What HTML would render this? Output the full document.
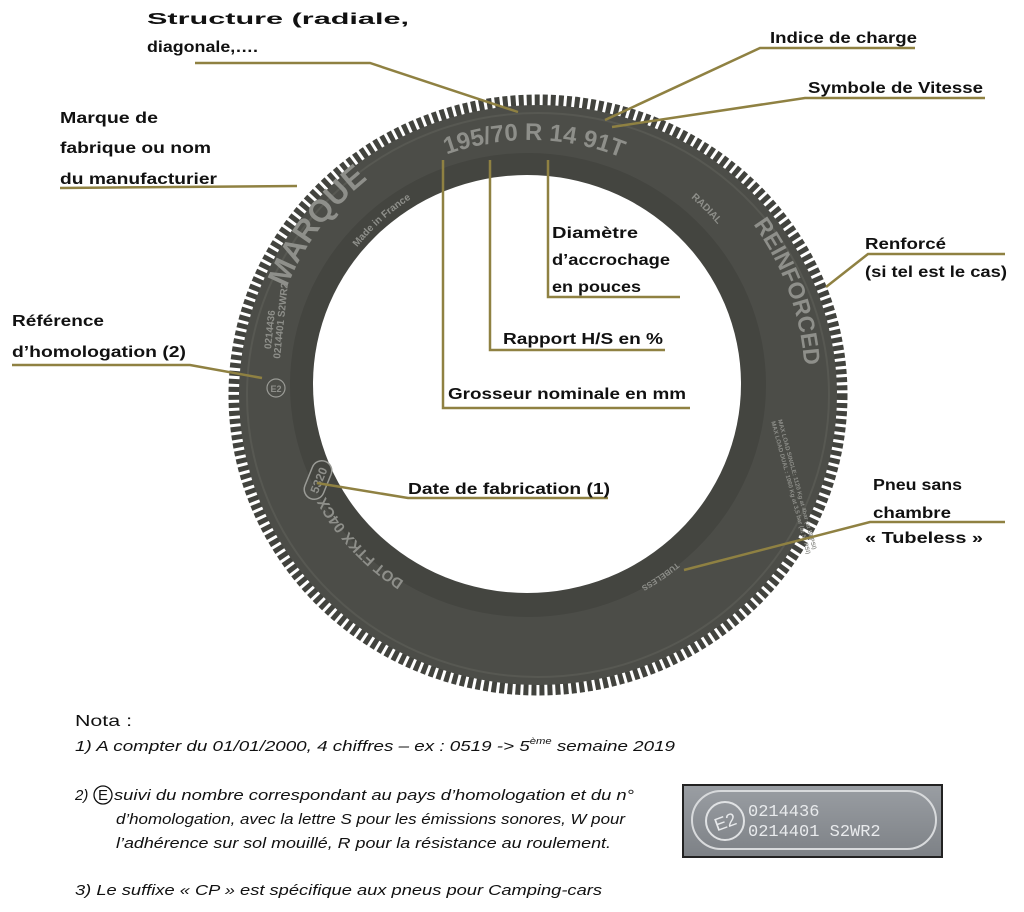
<!DOCTYPE html>
<html><head><meta charset="utf-8"><style>
html,body{margin:0;padding:0;background:#fff;}
svg{display:block;}
.l{font-family:"Liberation Sans",sans-serif;font-size:16px;font-weight:bold;fill:#111;}
.n{font-family:"Liberation Sans",sans-serif;font-size:15px;font-style:italic;fill:#111;}
.t{font-family:"Liberation Sans",sans-serif;font-weight:bold;fill:#8e8f8a;}
</style></head><body>
<svg width="1024" height="912" viewBox="0 0 1024 912" xmlns="http://www.w3.org/2000/svg">
<defs>
<path id="c262" d="M268,385 A262,262 0 1 1 792,385 A262,262 0 1 1 268,385"/>
<path id="c245" d="M285,385 A245,245 0 1 1 775,385 A245,245 0 1 1 285,385"/>
<path id="c275" d="M255,385 A275,275 0 1 1 805,385 A275,275 0 1 1 255,385"/>
<path id="c247" d="M283,385 A247,247 0 1 1 777,385 A247,247 0 1 1 283,385"/>
<path id="c221" d="M309,385 A221,221 0 1 1 751,385 A221,221 0 1 1 309,385"/>
<path id="c233" d="M297,385 A233,233 0 1 1 763,385 A233,233 0 1 1 297,385"/>
<path id="c230" d="M300,385 A230,230 0 1 1 760,385 A230,230 0 1 1 300,385"/>
<linearGradient id="g" x1="0" y1="0" x2="0" y2="1"><stop offset="0" stop-color="#9a9ea3"/><stop offset="1" stop-color="#7d8186"/></linearGradient>
</defs>
<!-- tire -->
<ellipse cx="538" cy="395" rx="304" ry="295" fill="none" stroke="#42433e" stroke-width="11" stroke-dasharray="5 3"/>
<ellipse cx="538" cy="395" rx="299" ry="290" fill="#4c4d48"/>
<ellipse cx="538" cy="395" rx="291" ry="282" fill="none" stroke="#575852" stroke-width="2"/>
<ellipse cx="528" cy="385" rx="238" ry="232" fill="#444540"/>
<ellipse cx="527" cy="384" rx="214" ry="209" fill="#fff"/>
<!-- tire text -->
<text class="t" font-size="24"><textPath href="#c245" startOffset="389" text-anchor="middle">195/70 R 14 91T</textPath></text>
<text class="t" font-size="31"><textPath href="#c262" startOffset="168" text-anchor="middle">MARQUE</textPath></text>
<text class="t" font-size="10"><textPath href="#c221" startOffset="185" text-anchor="middle">Made in France</textPath></text>
<text class="t" font-size="23"><textPath href="#c275" startOffset="768" text-anchor="middle">REINFORCED</textPath></text>
<text class="t" font-size="10"><textPath href="#c247" startOffset="582" text-anchor="middle">RADIAL</textPath></text>
<text class="t" font-size="15"><textPath href="#c233" startOffset="1289" text-anchor="middle">DOT FTKX 04CX</textPath></text>
<text class="t" font-size="8"><textPath href="#c230" startOffset="946" text-anchor="middle">TUBELESS</textPath></text>
<g transform="translate(318,480) rotate(-68)"><rect x="-20" y="-10" width="40" height="20" rx="10" fill="none" stroke="#9a9b96" stroke-width="1.5"/><text class="t" font-size="12" x="0" y="5" text-anchor="middle">5320</text></g>
<g transform="translate(273,330) rotate(-84)"><text class="t" font-size="10" x="0" y="0" text-anchor="middle">0214436</text><text class="t" font-size="10" x="10" y="10" text-anchor="middle">0214401 S2WR2</text></g>
<circle cx="276" cy="388" r="9" fill="none" stroke="#9a9b96" stroke-width="1.2"/>
<text class="t" font-size="9" x="276" y="392" text-anchor="middle">E2</text>
<g transform="translate(778,420) rotate(75)"><text class="t" font-size="6" x="0" y="0">MAX LOAD SINGLE: 1120 Kg at 4bar (at 58 PSI)</text><text class="t" font-size="6" x="0" y="7">MAX LOAD DUAL : 1060 Kg at 3,5 bar (at 51 PSI)</text></g>
<!-- connectors -->
<g fill="none" stroke="#8f8142" stroke-width="2.5">
<polyline points="195,63 370,63 518,112"/>
<polyline points="915,48 760,48 605,120"/>
<polyline points="985,98 805,98 612,127"/>
<polyline points="60,188 297,186"/>
<polyline points="548,160 548,297 680,297"/>
<polyline points="490,160 490,350 665,350"/>
<polyline points="443,160 443,408 690,408"/>
<polyline points="1005,254 868,254 826,287"/>
<polyline points="12,365 190,365 262,378"/>
<polyline points="608,498 408,498 317,483"/>
<polyline points="1005,522 870,522 684,570"/>
</g>
<!-- labels -->
<text class="l" x="147" y="24" textLength="262" lengthAdjust="spacingAndGlyphs" font-size="17">Structure (radiale,</text>
<text class="l" x="147" y="52" textLength="111" lengthAdjust="spacingAndGlyphs">diagonale,….</text>
<text class="l" x="770" y="43" textLength="147" lengthAdjust="spacingAndGlyphs">Indice de charge</text>
<text class="l" x="808" y="93" textLength="175" lengthAdjust="spacingAndGlyphs">Symbole de Vitesse</text>
<text class="l" x="60" y="123" textLength="98" lengthAdjust="spacingAndGlyphs">Marque de</text>
<text class="l" x="60" y="153" textLength="151" lengthAdjust="spacingAndGlyphs">fabrique ou nom</text>
<text class="l" x="60" y="184" textLength="157" lengthAdjust="spacingAndGlyphs">du manufacturier</text>
<text class="l" x="552" y="238" textLength="86" lengthAdjust="spacingAndGlyphs">Diamètre</text>
<text class="l" x="552" y="265" textLength="118" lengthAdjust="spacingAndGlyphs">d’accrochage</text>
<text class="l" x="552" y="292" textLength="89" lengthAdjust="spacingAndGlyphs">en pouces</text>
<text class="l" x="503" y="344" textLength="160" lengthAdjust="spacingAndGlyphs">Rapport H/S en %</text>
<text class="l" x="448" y="399" textLength="238" lengthAdjust="spacingAndGlyphs">Grosseur nominale en mm</text>
<text class="l" x="865" y="249" textLength="81" lengthAdjust="spacingAndGlyphs">Renforcé</text>
<text class="l" x="865" y="277" textLength="142" lengthAdjust="spacingAndGlyphs">(si tel est le cas)</text>
<text class="l" x="12" y="326" textLength="92" lengthAdjust="spacingAndGlyphs">Référence</text>
<text class="l" x="12" y="357" textLength="174" lengthAdjust="spacingAndGlyphs">d’homologation (2)</text>
<text class="l" x="408" y="494" textLength="202" lengthAdjust="spacingAndGlyphs">Date de fabrication (1)</text>
<text class="l" x="873" y="490" textLength="89" lengthAdjust="spacingAndGlyphs">Pneu sans</text>
<text class="l" x="873" y="518" textLength="78" lengthAdjust="spacingAndGlyphs">chambre</text>
<text class="l" x="865" y="543" textLength="118" lengthAdjust="spacingAndGlyphs">« Tubeless »</text>
<!-- notes -->
<text class="l" x="75" y="726" font-size="16" style="font-weight:normal" textLength="57" lengthAdjust="spacingAndGlyphs">Nota :</text>
<text class="n" x="75" y="751" textLength="600" lengthAdjust="spacingAndGlyphs">1)  A compter du 01/01/2000, 4 chiffres  –  ex : 0519 -&gt; 5<tspan font-size="9" dy="-7">ème</tspan><tspan dy="7"> semaine 2019</tspan></text>
<text class="n" x="75" y="800">2)</text>
<circle cx="103" cy="795" r="9" fill="none" stroke="#111" stroke-width="1.3"/>
<text class="n" x="98" y="800" style="font-style:normal">E</text>
<text class="n" x="114" y="800" textLength="520" lengthAdjust="spacingAndGlyphs">suivi du nombre correspondant au pays d’homologation et du n°</text>
<text class="n" x="116" y="824" textLength="509" lengthAdjust="spacingAndGlyphs">d’homologation, avec la lettre S pour les émissions sonores, W pour</text>
<text class="n" x="116" y="848" textLength="495" lengthAdjust="spacingAndGlyphs">l’adhérence sur sol mouillé, R pour la résistance au roulement.</text>
<text class="n" x="75" y="895" textLength="527" lengthAdjust="spacingAndGlyphs">3)  Le suffixe  « CP » est spécifique aux pneus pour Camping-cars</text>
<!-- photo -->
<rect x="683" y="785" width="259" height="72" fill="url(#g)" stroke="#222" stroke-width="2"/>
<rect x="692" y="791" width="244" height="58" rx="29" fill="none" stroke="#d8dadc" stroke-width="2"/>
<circle cx="725" cy="821" r="19" fill="none" stroke="#e0e2e4" stroke-width="2"/>
<text x="725" y="828" font-family="Liberation Sans,sans-serif" font-size="18" fill="#e8eaec" text-anchor="middle" transform="rotate(-20 725 821)">E2</text>
<text x="748" y="816" font-family="Liberation Mono,monospace" font-size="17" fill="#e8eaec">0214436</text>
<text x="748" y="836" font-family="Liberation Mono,monospace" font-size="17" fill="#e8eaec">0214401 S2WR2</text>
</svg>
</body></html>
